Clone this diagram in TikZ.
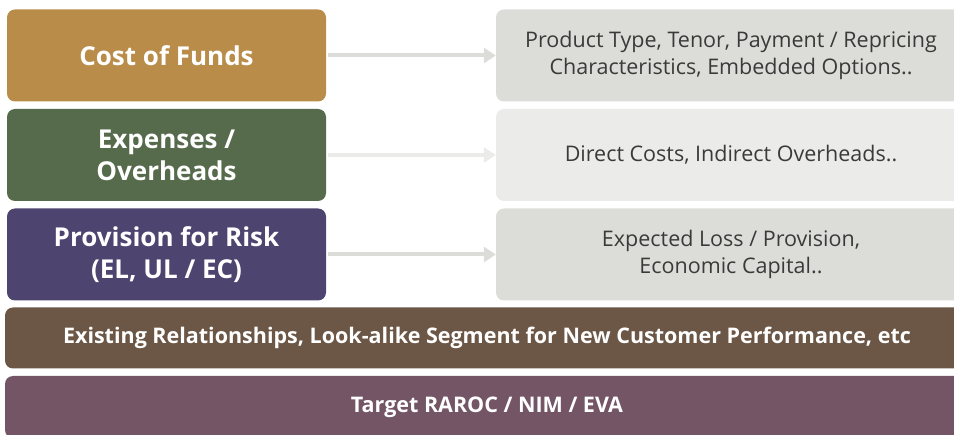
\documentclass[tikz,border=0pt]{standalone}
\usepackage{fontspec}
\setmainfont{Open Sans}
\usetikzlibrary{arrows.meta}

\definecolor{fundsgold}{HTML}{BA8C4A}
\definecolor{costgreen}{HTML}{566B4C}
\definecolor{riskpurple}{HTML}{4E4470}
\definecolor{relbrown}{HTML}{6C5747}
\definecolor{targetmauve}{HTML}{735566}
\definecolor{infogray}{HTML}{DCDCD9}
\definecolor{infolight}{HTML}{EBEBEA}
\definecolor{infotext}{HTML}{3A3A3A}

\tikzset{
  leftbox/.style={rounded corners=8pt,minimum width=319pt,minimum height=92pt,inner sep=0pt,
    align=center,text=white,font=\bfseries\fontsize{26}{32}\selectfont},
  infobox/.style={rounded corners=8pt,minimum width=470pt,minimum height=92pt,inner sep=0pt,
    align=center,text=infotext,font=\fontsize{21.5}{27}\selectfont},
  barbox/.style={rounded corners=8pt,minimum width=964pt,inner sep=0pt,
    text=white,font=\bfseries\fontsize{21.5}{24}\selectfont},
  link/.style={line width=4pt,-{Triangle[length=12pt,width=15pt]}}
}

\begin{document}
\begin{tikzpicture}[x=1pt,y=-1pt]
	\path[use as bounding box,clip] (0,0) rectangle (954,435);
	% left column
	\node[leftbox,fill=fundsgold] (funds) at (166.5,55.5) {Cost of Funds};
	\node[leftbox,fill=costgreen] (costs) at (166.5,155) {Expenses /\\Overheads};
	\node[leftbox,fill=riskpurple] (risk) at (166.5,254.5) {Provision for Risk\\(EL, UL / EC)};
	% right column
	\node[infobox,fill=infogray] (fundsinfo) at (731,55.5) {Product Type, Tenor, Payment / Repricing\\Characteristics, Embedded Options..};
	\node[infobox,fill=infolight] (costsinfo) at (731,155) {Direct Costs, Indirect Overheads..};
	\node[infobox,fill=infogray] (riskinfo) at (731,254.5) {Expected Loss / Provision,\\Economic Capital..};
	% bars
	\node[barbox,fill=relbrown,minimum height=61pt] (relations) at (487,338) {Existing Relationships, Look-alike Segment for New Customer Performance, etc};
	\node[barbox,fill=targetmauve,minimum height=62pt] (target) at (487,407) {Target RAROC / NIM / EVA};
	% arrows
	\draw[link,draw=infogray,fill=infogray] ([xshift=2pt]funds.east) -- (fundsinfo.west);
	\draw[link,draw=infolight,fill=infolight] ([xshift=2pt]costs.east) -- (costsinfo.west);
	\draw[link,draw=infogray,fill=infogray] ([xshift=2pt]risk.east) -- (riskinfo.west);
\end{tikzpicture}
\end{document}
